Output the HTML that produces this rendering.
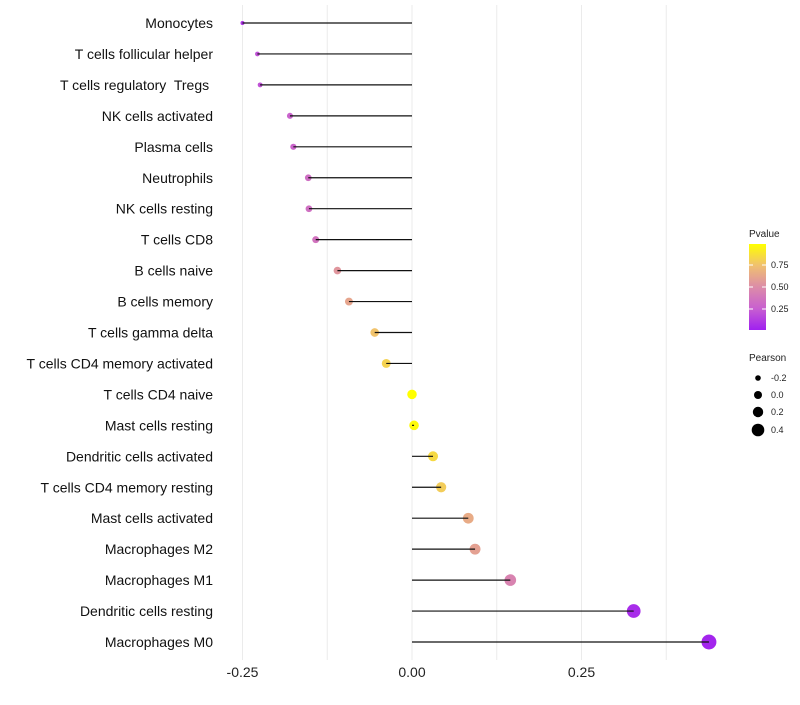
<!DOCTYPE html>
<html><head><meta charset="utf-8"><style>
body{margin:0;background:#fff;font-family:"Liberation Sans",sans-serif;}
text{white-space:pre;}
</style></head><body>
<svg id="chart" width="800" height="700" xmlns="http://www.w3.org/2000/svg">
<defs><linearGradient id="pg" x1="0" y1="1" x2="0" y2="0">
<stop offset="0" stop-color="#a020f0"/><stop offset="0.25" stop-color="#c860d0"/><stop offset="0.5" stop-color="#dc8ca8"/><stop offset="0.75" stop-color="#f0c070"/><stop offset="1" stop-color="#ffff00"/></linearGradient></defs>
<g id="grid"></g><g id="marks"></g><g id="labels"></g>
<g font-size="9" fill="#222">
<text x="749" y="237" font-size="10">Pvalue</text>
<rect x="749" y="244" width="17" height="86" fill="url(#pg)"/>
<line x1="749" x2="753" y1="265" y2="265" stroke="#fff"/><line x1="762" x2="766" y1="265" y2="265" stroke="#fff"/>
<line x1="749" x2="753" y1="287" y2="287" stroke="#fff"/><line x1="762" x2="766" y1="287" y2="287" stroke="#fff"/>
<line x1="749" x2="753" y1="309" y2="309" stroke="#fff"/><line x1="762" x2="766" y1="309" y2="309" stroke="#fff"/>
<text x="771" y="268">0.75</text><text x="771" y="290">0.50</text><text x="771" y="312">0.25</text>
<text x="749" y="361" font-size="10">Pearson</text>
<circle cx="758" cy="378" r="2.8" fill="#000"/><text x="771" y="381">-0.2</text>
<circle cx="758" cy="395" r="4" fill="#000"/><text x="771" y="398">0.0</text>
<circle cx="758" cy="412" r="5.2" fill="#000"/><text x="771" y="415">0.2</text>
<circle cx="758" cy="430" r="6.3" fill="#000"/><text x="771" y="433">0.4</text>
</g>
</svg>
<script>
const cells=["Monocytes","T cells follicular helper","T cells regulatory  Tregs ","NK cells activated","Plasma cells","Neutrophils","NK cells resting","T cells CD8","B cells naive","B cells memory","T cells gamma delta","T cells CD4 memory activated","T cells CD4 naive","Mast cells resting","Dendritic cells activated","T cells CD4 memory resting","Mast cells activated","Macrophages M2","Macrophages M1","Dendritic cells resting","Macrophages M0"];
const pearson=[-0.25,-0.228,-0.224,-0.18,-0.175,-0.153,-0.152,-0.142,-0.11,-0.093,-0.055,-0.038,0.0,0.003,0.031,0.043,0.083,0.093,0.145,0.327,0.438];
const pvalue=[0.08,0.2,0.2,0.27,0.28,0.33,0.34,0.36,0.55,0.62,0.76,0.82,1.0,0.98,0.85,0.8,0.65,0.6,0.45,0.05,0.02];
const xTicks=[-0.25,0,0.25];
const xTickLabels=["-0.25","0.00","0.25"];
const NS="http://www.w3.org/2000/svg";
const X=v=>412+v*678;
const Y=i=>23+i*30.95;
const R=v=>Math.sqrt(Math.max(1,4+75*(v+0.25)));
const stops=[[160,32,240],[200,96,208],[220,140,168],[240,192,112],[255,255,0]];
function col(p){const s=Math.min(3.999,Math.max(0,p*4));const k=Math.floor(s),t=s-k;const a=stops[k],b=stops[k+1];return `rgb(${a.map((x,j)=>Math.round(x+(b[j]-x)*t)).join(',')})`;}
function mk(t,a,parent){const e=document.createElementNS(NS,t);for(const k in a)e.setAttribute(k,a[k]);parent.appendChild(e);return e;}
const grid=document.getElementById('grid'),marks=document.getElementById('marks'),labels=document.getElementById('labels');
[-0.25,-0.125,0,0.125,0.25,0.375].forEach(v=>{const l=mk('line',{x1:X(v),x2:X(v),y1:5,y2:660,stroke:'#ebebeb','stroke-width':1},grid);

});
xTicks.forEach((v,i)=>{const t=mk('text',{x:X(v),y:677,'text-anchor':'middle','font-size':14,fill:'#222'},labels);t.textContent=xTickLabels[i];

});
cells.forEach((c,i)=>{
const t=mk('text',{x:213,y:Y(i)+5,'text-anchor':'end','font-size':14,fill:'#111'},labels);t.textContent=c;


const d=mk('circle',{cx:X(pearson[i]),cy:Y(i),r:R(pearson[i]),fill:col(pvalue[i])},marks);


const l=mk('line',{x1:X(0),x2:X(pearson[i]),y1:Y(i),y2:Y(i),stroke:'#111','stroke-width':1.2},marks);


});
</script>
</body></html>
